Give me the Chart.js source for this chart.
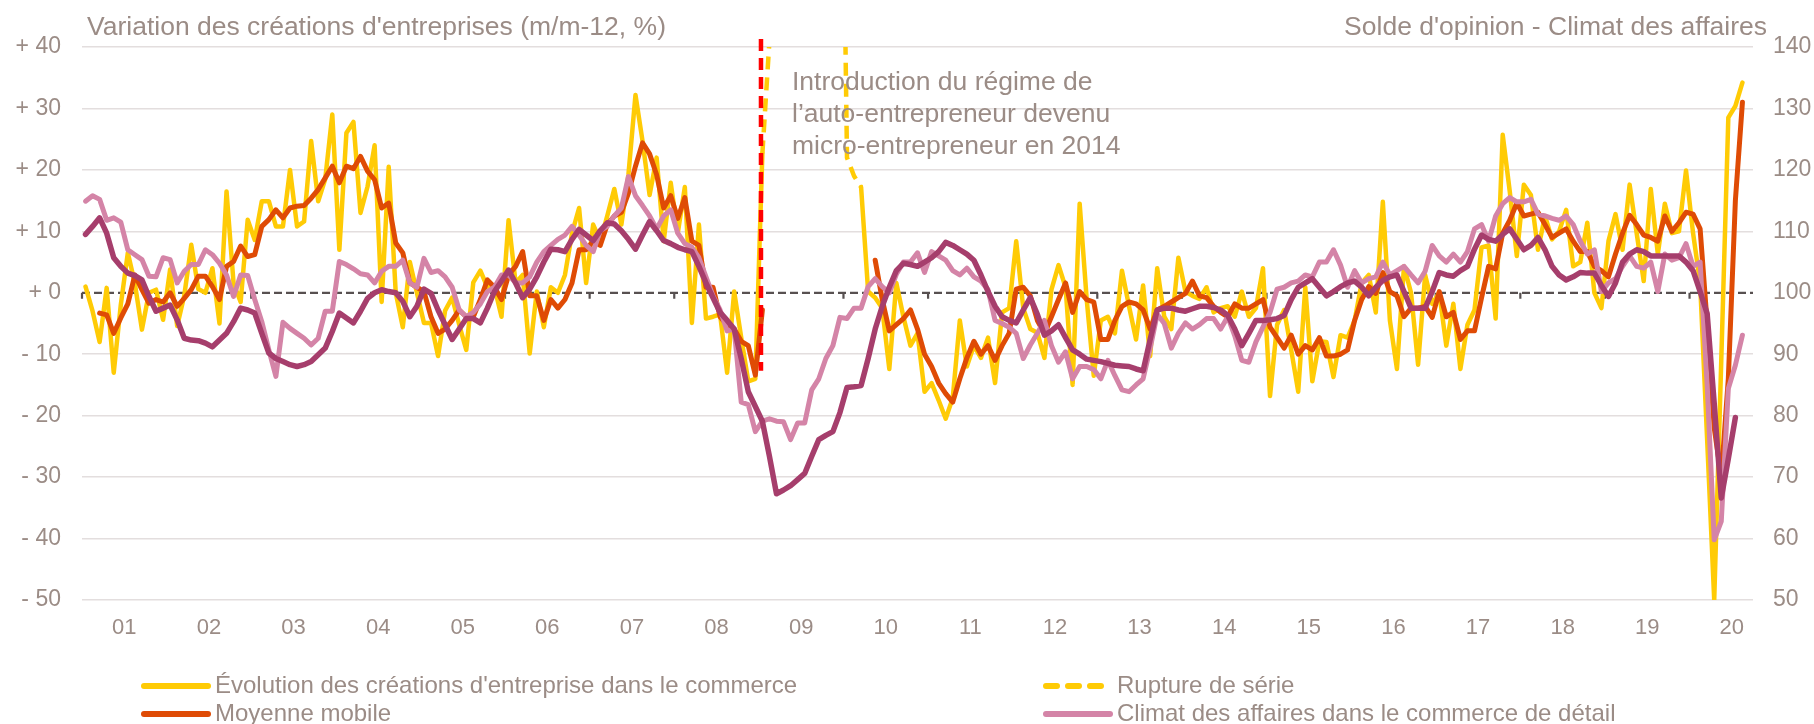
<!DOCTYPE html>
<html lang="fr">
<head>
<meta charset="utf-8">
<title>Créations d'entreprises dans le commerce et climat des affaires</title>
<script src="https://cdn.jsdelivr.net/npm/chart.js@4.4.1/dist/chart.umd.min.js"></script>
<style>
  html, body { margin: 0; padding: 0; background: #fff; }
  canvas { display: block; }
</style>
</head>
<body>
<canvas id="chart" width="1814" height="724"></canvas>
<script>
// mois : janvier 2001 (indice 0) -> août 2020 (indice 235)
const yearLabels = ['01','02','03','04','05','06','07','08','09','10','11','12','13','14','15','16','17','18','19','20'];
const leftTickLabels = ['- 50','- 40','- 30','- 20','- 10','+ 0','+ 10','+ 20','+ 30','+ 40'];
const rightTickLabels = ['50','60','70','80','90','100','110','120','130','140'];

// Évolution des créations d'entreprise dans le commerce (m/m-12, %)
const creations = [
  1.0, -3, -8, 0.8, -13, -2, 6.5, 1.5, -6, 0, 0.5, -4.4,
  3.8, -5.4, -0.5, 7.8, 0.6, 0, 4, -5, 16.5, 1.5, -1.5, 11.9,
  8.6, 14.9, 14.9, 10.8, 10.8, 20, 10.8, 11.6, 24.7, 14.9, 18.5, 29,
  7, 26, 27.8, 13, 17.3, 24, -1.5, 20.5, 0, -5.6, 5, 0,
  -4.9, -4.9, -10.3, -2.9, -0.8, -5.2, -9.3, 1.7, 3.6, 0.9, 0.9, -3.9,
  11.8, 1.6, 2.9, -9.9, 0.2, -5.6, 0.9, 0, 2.9, 9.7, 13.8, 1.6,
  11.1, 8.4, 12.5, 16.9, 11.1, 19.2, 32.2, 24.7, 15.9, 22, 8.4, 17.9,
  9.7, 17.2, -4.9, 11.1, -4.2, -3.9, -3.5, -13, 0.2, -7.3, -14.4, -14,
  22.7, null, null, null, null, null, null, null, null, null, null, null,
  null, null, 17.2, 0.2, -0.8, -2.5, -12.4, 1.6, -3.9, -8.6, -6.6, -16.1,
  -14.7, -17.5, -20.5, -17.1, -4.5, -12, -8.6, -10.6, -7.3, -14.7, -3.2, -2.5,
  8.4, -2.5, -5.9, -6.5, -10.6, 0.5, 4.5, 0.9, -15, 14.5, -1.1, -13.5,
  -4.5, -3.9, -6.6, 3.6, -2.2, -7.6, 1.2, -10.3, 4, -3.9, -5.9, 5.7,
  0.2, -0.5, -1, 0.9, -3.2, -2.5, -2.2, -3.9, 0.2, -3.9, -2.5, 4,
  -16.8, -5.2, -2.8, -9.3, -16.1, 0.9, -14.4, -7.9, -8, -13.7, -6.9, -7.3,
  -4.5, 1.6, 2.9, -3.2, 14.8, -4.5, -12.4, 4.3, 0, -11.7, 2.9, -1.8,
  0, -8.6, -1.8, -12.4, -5.2, -2.8, 7.4, 7.7, -4.2, 25.7, 16.5, 6,
  17.6, 15.9, 7, 12.5, 8.7, 10, 13.5, 4.3, 5, 11.4, 0, -2.5,
  8.4, 12.8, 7, 17.6, 9.7, 1.9, 16.9, 6.3, 14.5, 9.7, 10, 19.9,
  9.7, 1.6, -24, -50, -11, 28.5, 30.4, 34.2
];

// rupture de série (déc. 2008 -> mars 2010), valeurs hors cadre en 2009
const ruptureStart = 96;
const rupture = [22.7, 41, 90, 140, 160, 170, 175, 170, 160, 150, 140, 107, 22, 19, 17.2];

// Moyenne mobile
const moyenneMobile = [
  null, null, -3.3, -3.6, -6.6, -4.1, -1.8, 2.9, 0.5, -1.7, -1.1, -1.5,
  0, -2.2, -0.9, 0.5, 2.7, 2.7, 1, -1.1, 4.3, 5.1, 7.6, 5.9,
  6.2, 10.8, 11.9, 13.5, 12.2, 13.8, 14.1, 14.2, 15.4, 16.8, 18.7, 20.6,
  17.9, 20.6, 20.2, 22.2, 19.8, 18.4, 13.8, 14.6, 8.1, 6.5, 1.6, 0.9,
  0.2, -3.9, -6.6, -5.9, -4.5, -2.8, -3.9, -3.9, -1.1, 2.1, 0.9, -1.1,
  2.9, 4.3, 6.7, -0.5, -0.5, -4.5, -1.1, -2.5, -1.1, 1.6, 7, 7,
  8.4, 7.7, 11.1, 12.5, 13.1, 16.2, 20.6, 24.4, 22.6, 19.2, 13.8, 15.8,
  12.1, 15.5, 8.4, 7.7, 0.9, 0.9, -3.9, -5.2, -5.9, -7.9, -8.6, -13.4,
  -2.8, null, null, null, null, null, null, null, null, null, null, null,
  null, null, null, null, 5.3, -1.1, -6.2, -5.2, -4.2, -2.8, -5.9, -10,
  -12, -14.7, -16.4, -17.8, -14, -10.6, -7.9, -10, -8.6, -11, -8.6, -6.6,
  0.6, 0.9, -0.5, -4.5, -6.6, -3.9, -1.1, 1.6, -3.2, 0.2, -1.1, -1.5,
  -7.6, -7.6, -4.5, -2.2, -1.5, -1.8, -2.8, -5.9, -2.8, -2.2, -1.5, -0.8,
  -0.1, 1.9, -0.5, -0.8, -2.2, -3.2, -3.9, -1.8, -2.5, -2.5, -1.8, -1.1,
  -5.6, -7.3, -9, -6.9, -10, -8.6, -9.3, -7.3, -10.3, -10.3, -10, -9.3,
  -4.5, -1.1, 1, -0.1, 3.3, 0.2, -0.5, -3.9, -2.5, -2.5, -2.2, -4,
  0.2, -3.9, -3.2, -7.6, -6.2, -6.2, -0.8, 4.3, 3.9, 9.7, 11.8, 14.6,
  12.5, 12.8, 13.1, 11.1, 9, 9.7, 10.4, 8.4, 6.7, 6.7, 4.3, 3.6,
  2.6, 6.3, 9.7, 12.6, 11.1, 9.4, 9, 8.4, 12.5, 10, 11.4, 13.1,
  12.8, 10.4, -5, -22, -30, -14, 15, 31
];

// Climat des affaires dans le commerce de détail (axe de droite)
const climatDetail = [
  114.9, 115.8, 115.2, 111.8, 112.2, 111.5, 107, 106.2, 105.4, 102.7, 102.6, 105.7,
  105.4, 101.6, 103.5, 104.6, 104.6, 107, 106.2, 104.8, 102.9, 99.4, 102.9, 102.8,
  98.9, 95.3, 90.7, 86.4, 95.2, 94.2, 93.4, 92.6, 91.5, 92.6, 97, 97,
  105.1, 104.6, 103.9, 103.1, 102.9, 101.6, 103.5, 104.3, 104.3, 105.3, 101.6, 100.9,
  105.6, 103.3, 103.6, 102.6, 100.9, 97.2, 96.1, 96.8, 98.2, 100.2, 100.9, 102.9,
  102.9, 101.6, 101.6, 102.6, 105, 106.7, 107.7, 108.7, 109.4, 110.8, 109.4, 107.7,
  106.7, 110.1, 110.8, 112.5, 113.8, 118.9, 115.8, 114.2, 112.5, 110.4, 112.5, 113.5,
  109.7, 108, 107.4, 105.7, 102.6, 99.5, 97.2, 93.8, 94.1, 82.2, 81.8, 77.4,
  79.1, 79.5, 79.1, 79, 76.1, 78.8, 78.8, 84.2, 86, 89.3, 91.4, 96,
  95.8, 97.5, 97.5, 101, 102.3, 101, 100, 103, 105, 105, 106.5, 103.3,
  106.7, 106, 105.3, 103.6, 102.9, 104, 102.6, 101.9, 100.5, 95.5, 95, 94.4,
  93.4, 89.3, 91.5, 93.4, 95.5, 91.4, 88.7, 90.4, 86, 88, 88, 87.5,
  86, 89, 86.5, 84.2, 83.9, 85, 86, 91, 96.5, 95, 91, 93.4,
  95.1, 94.1, 94.8, 95.8, 95.8, 94.1, 96.1, 93, 89, 88.7, 92, 94.4,
  96.8, 100.6, 100.9, 101.6, 101.9, 102.9, 102.6, 105, 105, 107, 104.5, 100.9,
  103.6, 101.6, 102.3, 102.6, 105, 102.9, 103.6, 104.3, 102.9, 101.6, 103.5, 107.7,
  106, 105, 106.3, 105, 106.7, 110.4, 111.1, 108.4, 112.5, 114.5, 115.5, 114.8,
  114.8, 115.2, 112.8, 112.5, 112.1, 111.8, 112.5, 111.1, 108.4, 106.3, 107, 100.2,
  101.6, 102.3, 104.3, 106, 104.3, 104, 105, 100.2, 106.3, 105.3, 105.7, 108,
  104.3, 105, 85, 59.8, 62.8, 84.4, 88.2, 93.1
];

// second indicateur de climat (trait violet, sans entrée de légende)
const climatTendance = [
  109.5, 110.8, 112.2, 109.7, 105.7, 104.3, 103.2, 102.8, 102.1, 99.4, 97, 97.5,
  98, 95.6, 92.6, 92.3, 92.2, 91.8, 91.2, 92.3, 93.4, 95.3, 97.5, 97.2,
  96.7, 93.4, 90.2, 89.3, 88.8, 88.3, 88, 88.3, 88.8, 89.9, 91, 93.7,
  96.7, 95.9, 95.1, 97, 99.1, 100, 100.5, 100.2, 100, 98.6, 96.1, 97.8,
  100.6, 99.9, 97.2, 94.8, 92.4, 94.1, 95.8, 95.8, 95.1, 97.5, 100.2, 101.9,
  103.7, 101.6, 99.2, 100.6, 102.6, 105, 107.1, 107, 106.7, 108.7, 110.3, 109.4,
  108.5, 110.1, 111.4, 111.2, 110.1, 108.7, 107.1, 109.4, 111.6, 110.1, 108.5, 108,
  107.4, 107, 106.7, 104.3, 101.6, 99.2, 96.8, 95.5, 94.1, 89.3, 83.9, 81.5,
  79.1, 73.4, 67.3, 67.9, 68.6, 69.6, 70.6, 73.4, 76.1, 76.8, 77.4, 80.5,
  84.6, 84.7, 84.9, 89.3, 94.1, 97.8, 100.9, 103.6, 104.8, 104.6, 104.3, 105,
  105.7, 106.7, 108.2, 107.7, 107, 106.3, 105.3, 102.9, 100.2, 97.8, 96.1, 95.5,
  95.1, 97.2, 99.2, 96.5, 93.1, 93.8, 94.8, 92.7, 90.7, 90, 89.2, 89,
  88.8, 88.5, 88.2, 88.1, 88, 87.6, 87.3, 92.4, 97.2, 97.5, 97.5, 97.2,
  97, 97.4, 97.8, 97.8, 97.6, 97.2, 96.3, 94.1, 91.4, 93.4, 95.5, 95.5,
  95.6, 95.8, 96.3, 98.9, 100.9, 101.6, 102.3, 100.9, 99.5, 100.2, 101, 101.6,
  101.9, 100.9, 99.5, 100.9, 102, 102.6, 102.9, 100.2, 97.5, 97.5, 97.5, 100.2,
  103.3, 102.9, 102.7, 103.6, 104.3, 107.1, 109.4, 108.7, 108.4, 109.5, 110.4, 108.7,
  107, 107.7, 109, 107, 104.3, 102.9, 102.1, 102.6, 103.3, 103.2, 103.2, 101.2,
  99.4, 101.6, 105, 106.3, 107, 106.7, 106, 106, 106, 106, 106, 105,
  103.6, 100.2, 96.6, 82, 66.6, 73, 79.7, null
];

// trait rouge vertical (rupture de 2009)
const ruptureMarkerX = 95.8;
const ruptureMarkerY = [41.3, -12.7];

const leftTitle = "Variation des créations d'entreprises (m/m-12, %)";
const rightTitle = "Solde d'opinion - Climat des affaires";
const noteLines = ['Introduction du régime de', 'l’auto-entrepreneur devenu', 'micro-entrepreneur en 2014'];
const noteAnchor = {x: 100.2, y: 34.2};

const fontFamily = "'Liberation Sans', Arial, sans-serif";
const textColor = '#9b8c86';
const yellow = '#ffcb05';

const toPoints = (vals, start = 0) => vals.map((v, i) => ({x: start + i, y: v}));

// ligne des zéros en pointillé, avec petites graduations annuelles
const zeroLine = {
  id: 'zeroLine',
  beforeDatasetsDraw(chart) {
    const {ctx, chartArea, scales} = chart;
    const y0 = scales.y.getPixelForValue(0);
    ctx.save();
    ctx.strokeStyle = '#575050';
    ctx.lineWidth = 2.2;
    ctx.setLineDash([8, 4]);
    ctx.beginPath();
    ctx.moveTo(chartArea.left, y0);
    ctx.lineTo(chartArea.right, y0);
    ctx.stroke();
    ctx.setLineDash([]);
    ctx.beginPath();
    for (let k = 0; k <= yearLabels.length - 1; k++) {
      const x = scales.x.getPixelForValue(-0.5 + 12 * k);
      ctx.moveTo(x, y0);
      ctx.lineTo(x, y0 + 6);
    }
    ctx.stroke();
    ctx.restore();
  }
};

const texts = {
  id: 'texts',
  afterDatasetsDraw(chart) {
    const {ctx, chartArea, scales} = chart;
    ctx.save();
    ctx.fillStyle = textColor;
    ctx.font = '26.5px ' + fontFamily;
    ctx.textBaseline = 'alphabetic';
    ctx.textAlign = 'left';
    ctx.fillText(leftTitle, chartArea.left + 5, 35);
    ctx.textAlign = 'right';
    ctx.fillText(rightTitle, chartArea.right + 14, 35);

    ctx.textAlign = 'left';
    ctx.textBaseline = 'middle';
    const nx = scales.x.getPixelForValue(noteAnchor.x);
    const ny = scales.y.getPixelForValue(noteAnchor.y);
    noteLines.forEach((line, k) => ctx.fillText(line, nx, ny + k * 32));
    ctx.restore();
  }
};

// légende sur deux colonnes, dessinée à la main
const legendBottom = {
  id: 'legendBottom',
  afterDraw(chart) {
    const {ctx} = chart;
    const items = chart.data.datasets.filter(d => d.inLegend);
    const cols = [141, 1043];
    const rows = [686, 714];
    ctx.save();
    ctx.font = '24px ' + fontFamily;
    ctx.textBaseline = 'middle';
    ctx.textAlign = 'left';
    items.forEach((d, i) => {
      const x = cols[i % 2];
      const y = rows[Math.floor(i / 2)];
      ctx.strokeStyle = d.borderColor;
      ctx.lineWidth = 6;
      ctx.lineCap = 'round';
      ctx.setLineDash(d.borderDash ? [11, 11] : []);
      ctx.beginPath();
      ctx.moveTo(x + 3, y);
      ctx.lineTo(x + 67, y);
      ctx.stroke();
      ctx.setLineDash([]);
      ctx.fillStyle = textColor;
      ctx.fillText(d.label, x + 74, y);
    });
    ctx.restore();
  }
};

Chart.defaults.font.family = fontFamily;
Chart.defaults.color = textColor;

new Chart(document.getElementById('chart'), {
  type: 'line',
  data: {
    datasets: [
      {
        label: "Évolution des créations d'entreprise dans le commerce",
        inLegend: true,
        data: toPoints(creations),
        yAxisID: 'y',
        borderColor: yellow,
        borderWidth: 4.5,
        borderCapStyle: 'round',
        order: 5
      },
      {
        label: 'Rupture de série',
        inLegend: true,
        data: toPoints(rupture, ruptureStart),
        yAxisID: 'y',
        borderColor: yellow,
        borderWidth: 4.5,
        borderDash: [13, 8],
        order: 4
      },
      {
        label: 'Moyenne mobile',
        inLegend: true,
        data: toPoints(moyenneMobile),
        yAxisID: 'y',
        borderColor: '#df4b05',
        borderWidth: 5,
        borderCapStyle: 'round',
        order: 3
      },
      {
        label: 'Climat des affaires dans le commerce de détail',
        inLegend: true,
        data: toPoints(climatDetail),
        yAxisID: 'y2',
        borderColor: '#d484a7',
        borderWidth: 5,
        borderCapStyle: 'round',
        order: 2
      },
      {
        label: 'Climat des affaires (tendance)',
        data: toPoints(climatTendance),
        yAxisID: 'y2',
        borderColor: '#a63e6c',
        borderWidth: 5.5,
        borderCapStyle: 'round',
        order: 1
      },
      {
        label: 'Rupture',
        data: ruptureMarkerY.map(v => ({x: ruptureMarkerX, y: v})),
        yAxisID: 'y',
        borderColor: '#ff0000',
        borderWidth: 4.5,
        borderDash: [12, 7],
        clip: false,
        order: 0
      }
    ]
  },
  options: {
    responsive: false,
    animation: false,
    events: [],
    layout: {padding: {top: 47, bottom: 64, left: 0, right: 0}},
    elements: {
      point: {radius: 0},
      line: {tension: 0, borderJoinStyle: 'round'}
    },
    plugins: {
      legend: {display: false},
      tooltip: {enabled: false}
    },
    scales: {
      x: {
        type: 'linear',
        min: -0.5,
        max: 236.5,
        grid: {display: false, drawTicks: false},
        border: {display: false},
        afterBuildTicks: s => { s.ticks = yearLabels.map((l, k) => ({value: 5.5 + 12 * k})); },
        afterFit: s => { s.height = 60; },
        ticks: {
          autoSkip: false,
          maxRotation: 0,
          padding: 15,
          font: {size: 22},
          color: textColor,
          callback: (v, i) => yearLabels[i]
        }
      },
      y: {
        position: 'left',
        min: -50,
        max: 40,
        grid: {
          drawTicks: false,
          lineWidth: 1.5,
          color: c => c.tick && c.tick.value === 0 ? 'rgba(0,0,0,0)' : '#e3dede'
        },
        border: {display: false},
        afterFit: s => { s.width = 82; },
        ticks: {
          stepSize: 10,
          padding: 21,
          font: {size: 23},
          color: textColor,
          callback: v => leftTickLabels[Math.round((v + 50) / 10)]
        }
      },
      y2: {
        position: 'right',
        min: 50,
        max: 140,
        grid: {display: false, drawTicks: false},
        border: {display: false},
        afterFit: s => { s.width = 61; },
        ticks: {
          stepSize: 10,
          padding: 20,
          font: {size: 23},
          color: textColor,
          callback: v => rightTickLabels[Math.round((v - 50) / 10)]
        }
      }
    }
  },
  plugins: [zeroLine, texts, legendBottom]
});
</script>
</body>
</html>
